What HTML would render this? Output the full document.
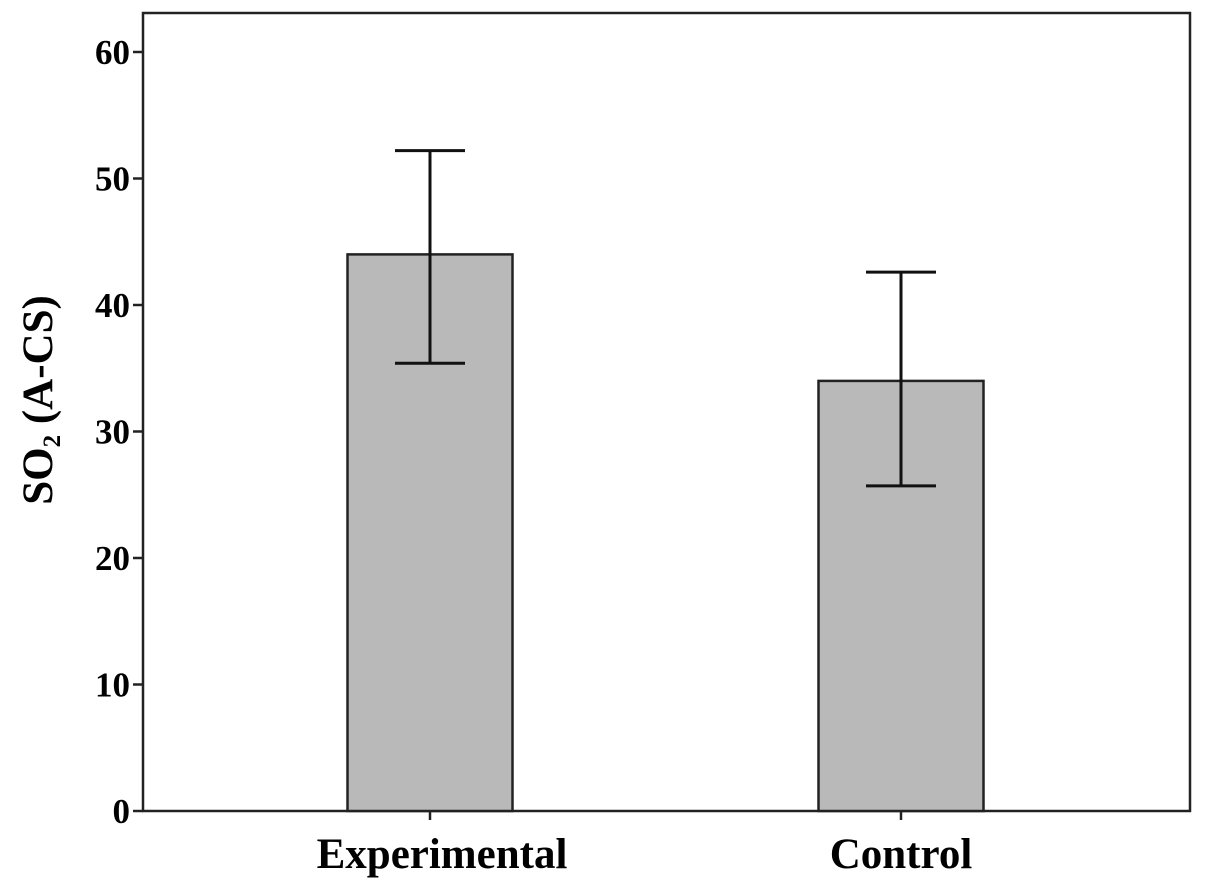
<!DOCTYPE html>
<html><head><meta charset="utf-8"><style>
html,body{margin:0;padding:0;background:#fff;}
svg{display:block;font-family:"Liberation Serif",serif;font-weight:bold;}
</style></head><body>
<svg id="chart" width="1205" height="888">
<rect x="0" y="0" width="1205" height="888" fill="#fff"/>
<rect x="143" y="13" width="1047" height="798" fill="none" stroke="#222" stroke-width="2.5"/>
<g id="yaxis"></g><g id="bars"></g>
<text transform="translate(52,400) rotate(-90)" text-anchor="middle" font-size="43">SO<tspan font-size="25" dy="8">2</tspan><tspan dy="-8"> (A-CS)</tspan></text>
</svg>
<script>
const categories=["Experimental","Control"];
const means=[44.0,34.0];
const errLow=[35.4,25.7];
const errHigh=[52.2,42.6];
const yTicks=[0,10,20,30,40,50,60];
const NS="http://www.w3.org/2000/svg";
const y0=811,yPer=(811-52)/60;
const y=v=>y0-v*yPer;
const xc=i=>430+i*471;
const bw=165,cap=70;
function mk(tag,attrs,parent){const e=document.createElementNS(NS,tag);for(const k in attrs)e.setAttribute(k,attrs[k]);parent.appendChild(e);return e;}
const ya=document.getElementById('yaxis');
yTicks.forEach(t=>{
 const l=mk('line',{x1:133,x2:143,y1:y(t),y2:y(t),stroke:'#222','stroke-width':2.5},ya);
 
 
 const tx=mk('text',{x:130,y:y(t)+12,'text-anchor':'end','font-size':35},ya);
 tx.textContent=t;
 
 
});
const bg=document.getElementById('bars');
categories.forEach((c,i)=>{
 const cx=xc(i);
 const r=mk('rect',{x:cx-bw/2,y:y(means[i]),width:bw,height:y0-y(means[i]),fill:'#b9b9b9',stroke:'#222','stroke-width':2.5},bg);
 
 
 const g=mk('g',{stroke:'#111','stroke-width':3},bg);
 
 
 mk('line',{x1:cx,x2:cx,y1:y(errLow[i]),y2:y(errHigh[i])},g);
 mk('line',{x1:cx-cap/2,x2:cx+cap/2,y1:y(errLow[i]),y2:y(errLow[i])},g);
 mk('line',{x1:cx-cap/2,x2:cx+cap/2,y1:y(errHigh[i]),y2:y(errHigh[i])},g);
 const tk=mk('line',{x1:cx,x2:cx,y1:811,y2:820,stroke:'#222','stroke-width':2.5},bg);
 
 
 const t=mk('text',{x:cx+(i===0?12:0),y:868,'text-anchor':'middle','font-size':43},bg);
 t.textContent=c;
 
 
});
</script>
</body></html>
